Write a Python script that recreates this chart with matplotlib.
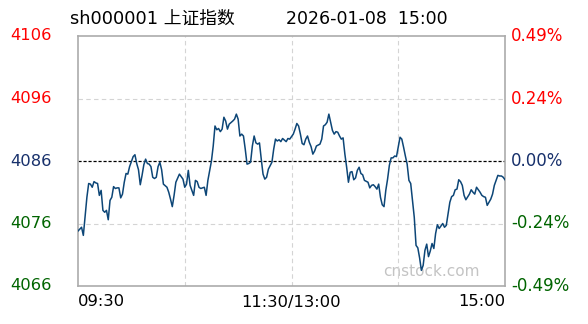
import matplotlib
matplotlib.use("Agg")
import matplotlib.pyplot as plt
import matplotlib.transforms as mtransforms

plt.rcParams['font.family'] = ['DejaVu Sans', 'Noto Sans CJK SC']

# minutes since 09:30 (lunch break removed, 0..240) and index level
minutes = [0, 2, 3, 5, 6, 7, 8, 9, 10, 11, 12, 13, 14, 15, 16, 17, 18, 19, 20, 21,
           22, 23, 24, 25, 26, 27, 28, 29, 31, 32, 33, 34, 35, 36, 37, 38, 39, 40, 41, 42,
           43, 44, 45, 46, 47, 48, 50, 51, 52, 53, 54, 55, 57, 58, 59, 60, 61, 62, 63, 65,
           66, 67, 68, 69, 71, 72, 73, 75, 76, 77, 78, 79, 80, 81, 82, 83, 84, 85, 87, 88,
           89, 90, 91, 92, 93, 94, 95, 96, 97, 98, 99, 100, 101, 102, 103, 104, 105, 106, 107, 109,
           110, 111, 112, 113, 114, 115, 117, 118, 119, 121, 122, 123, 124, 125, 126, 127, 128, 129, 130, 131,
           132, 133, 134, 136, 137, 138, 139, 140, 141, 142, 143, 144, 145, 146, 147, 148, 149, 150, 151, 152,
           153, 154, 155, 156, 157, 158, 159, 160, 161, 163, 164, 165, 166, 167, 168, 169, 170, 171, 172, 173,
           174, 175, 176, 177, 178, 179, 180, 181, 182, 183, 184, 185, 186, 187, 188, 189, 190, 191, 192, 193,
           194, 195, 196, 197, 198, 199, 200, 201, 202, 203, 204, 205, 206, 207, 208, 209, 210, 211, 212, 213,
           214, 215, 216, 217, 218, 220, 221, 222, 223, 224, 225, 226, 227, 228, 229, 230, 231, 232, 233, 234,
           236, 237, 238, 239, 240]
prices = [4074.8, 4075.4, 4074.1, 4080.2, 4082.4, 4082.3, 4081.8, 4082.7, 4082.5, 4082.4,
          4080.5, 4081.3, 4078.1, 4077.8, 4078.1, 4076.6, 4079.7, 4080.2, 4081.9, 4081.6,
          4081.7, 4081.7, 4080.1, 4080.7, 4082.6, 4084.0, 4083.9, 4085.1, 4086.7, 4087.0,
          4085.6, 4084.6, 4082.2, 4083.7, 4085.4, 4086.3, 4085.6, 4085.5, 4085.1, 4083.4,
          4083.2, 4083.4, 4085.1, 4085.8, 4084.6, 4082.3, 4081.8, 4081.0, 4079.9, 4078.7,
          4080.5, 4082.6, 4083.9, 4083.5, 4083.1, 4081.8, 4082.3, 4084.5, 4082.1, 4080.5,
          4082.9, 4082.7, 4081.8, 4081.6, 4081.8, 4080.5, 4082.9, 4086.0, 4088.4, 4091.6,
          4091.0, 4091.2, 4090.7, 4091.1, 4093.0, 4092.4, 4091.1, 4091.9, 4092.4, 4092.7,
          4093.5, 4092.7, 4090.0, 4090.3, 4090.0, 4087.9, 4085.5, 4085.6, 4085.8, 4088.4,
          4090.0, 4088.9, 4088.7, 4088.9, 4086.3, 4083.9, 4083.1, 4083.4, 4084.7, 4085.8,
          4087.9, 4089.5, 4089.2, 4089.4, 4089.1, 4089.6, 4089.1, 4089.6, 4089.5, 4090.3,
          4091.1, 4092.0, 4091.6, 4090.3, 4088.8, 4088.6, 4089.5, 4090.0, 4089.0, 4088.3,
          4087.1, 4087.6, 4088.4, 4088.7, 4089.5, 4091.6, 4091.8, 4092.2, 4093.5, 4092.2,
          4090.9, 4090.3, 4090.7, 4090.6, 4090.0, 4089.5, 4089.7, 4087.1, 4085.0, 4082.6,
          4084.2, 4084.3, 4083.0, 4083.3, 4084.5, 4085.0, 4084.0, 4083.8, 4082.9, 4082.6,
          4081.7, 4082.1, 4082.2, 4081.9, 4081.5, 4082.3, 4080.2, 4079.0, 4078.7, 4081.3,
          4083.1, 4085.3, 4086.5, 4086.5, 4086.8, 4086.7, 4088.3, 4089.8, 4089.5, 4088.2,
          4086.8, 4085.5, 4082.9, 4082.4, 4079.7, 4077.0, 4072.5, 4072.1, 4070.5, 4068.5,
          4069.3, 4071.7, 4072.7, 4070.7, 4071.6, 4072.8, 4072.0, 4074.4, 4075.8, 4075.2,
          4075.6, 4076.0, 4075.4, 4075.7, 4077.5, 4079.4, 4080.3, 4080.5, 4081.4, 4081.5,
          4083.0, 4082.7, 4082.1, 4080.5, 4079.8, 4080.7, 4081.4, 4081.0, 4080.7, 4081.8,
          4081.4, 4081.0, 4080.5, 4080.3, 4080.2, 4078.9, 4079.4, 4079.9, 4080.7, 4082.1,
          4083.7, 4083.6, 4083.6, 4083.4, 4083.0]

prev_close = 4086
levels = [4106, 4096, 4086, 4076, 4066]
level_colors = ['#ff0000', '#ff0000', '#17306b', '#006400', '#006400']
time_ticks = [0, 120, 240]
time_labels = ['09:30', '11:30/13:00', '15:00']

fig = plt.figure(figsize=(5.88, 3.24), dpi=100)
ax = fig.add_axes([78/588, 1-286/324, 427/588, 250/324])

ax.plot(minutes, prices, color='#0d4677', lw=1.1, zorder=3)
ax.axhline(prev_close, color='black', lw=0.9, ls=(0, (2.5, 1.5)), zorder=2)

ax.set_xlim(0, 240)
ax.set_ylim(levels[-1], levels[0])
for v in [60, 120, 180]:
    ax.axvline(v, color='#d4d4d4', lw=0.8, ls=(0, (4, 3)), zorder=1)
for v in [4096, 4076]:
    ax.axhline(v, color='#d4d4d4', lw=0.8, ls=(0, (4, 3)), zorder=1)

ax.set_xticks([])
ax.set_yticks([])
for s in ax.spines.values():
    s.set_color('#ababab')
    s.set_linewidth(1.2)

# left and right axis labels
tl = mtransforms.blended_transform_factory(fig.transFigure, ax.transData)
for v, c in zip(levels, level_colors):
    pct = (v - prev_close) / prev_close * 100
    ax.text(52/588, v, f'{v}', color=c, fontsize=11.8, ha='right', va='center', transform=tl)
    ax.text(511/588, v, f'{pct:.2f}%', color=c, fontsize=12, ha='left', va='center', transform=tl)

tb = mtransforms.blended_transform_factory(ax.transData, fig.transFigure)
aligns = ['left', 'center', 'right']
for t, lab, ha in zip(time_ticks, time_labels, aligns):
    ax.text(t, 1-302/324, lab, fontsize=11.8, ha=ha, va='center', transform=tb)

fig.text(70/588, 1-19/324, 'sh000001 上证指数', fontsize=12.8, ha='left', va='center')
fig.text(448/588, 1-19/324, '2026-01-08  15:00', fontsize=12.5, ha='right', va='center')

ax.text(0.94, 0.06, 'cnstock.com', color='#c4c4c4', fontsize=11, ha='right', va='center',
        transform=ax.transAxes, zorder=0)

fig.savefig('out.png', dpi=100)
